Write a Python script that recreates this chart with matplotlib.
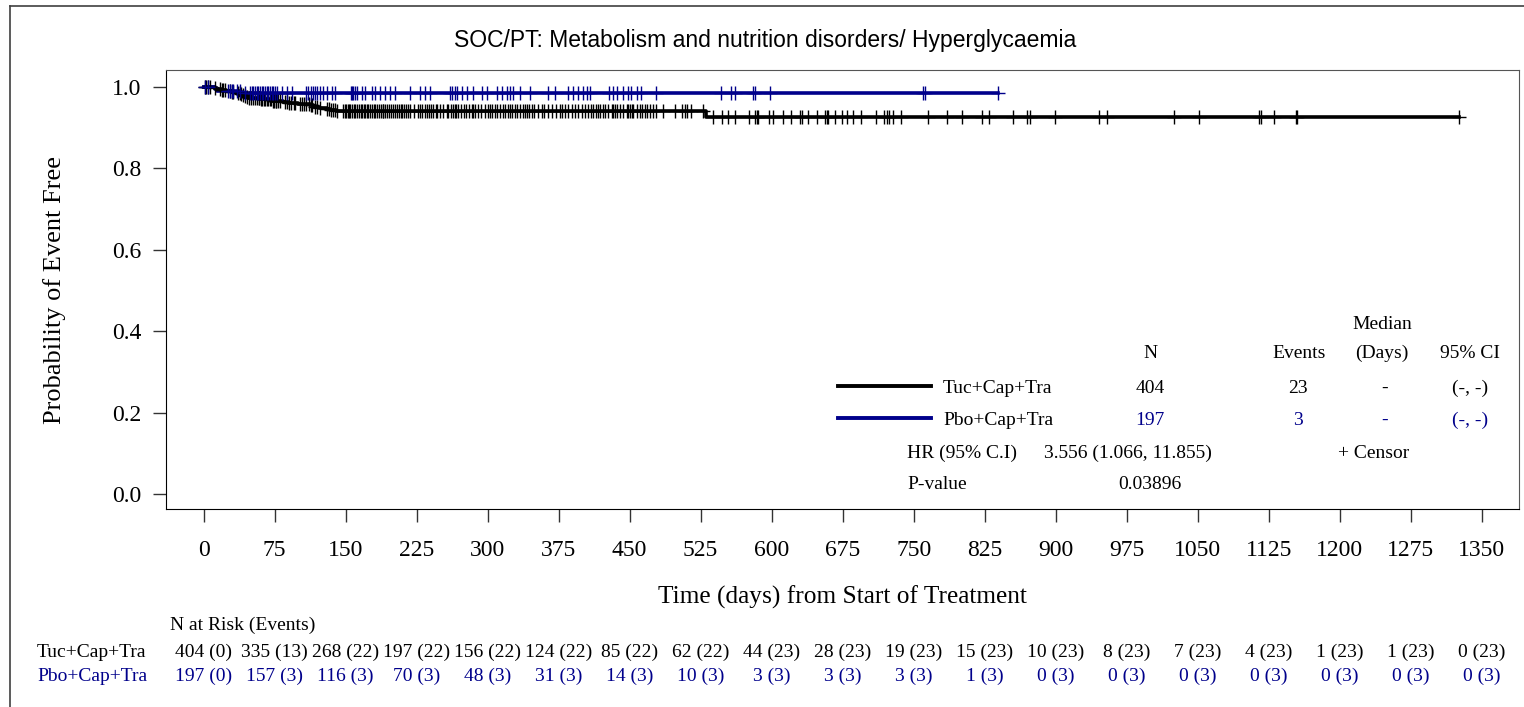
import numpy as np
import matplotlib.pyplot as plt
import matplotlib.transforms as mtransforms
from matplotlib.lines import Line2D

plt.rcParams['font.family'] = ['Liberation Serif', 'DejaVu Serif']

# KM step points (time in days, probability event free)
tuc_times = [0, 12, 14, 18, 24, 30, 36, 40, 42, 44, 46, 47, 60, 72, 84, 90, 100, 112, 116, 122, 130, 134, 140, 531]
tuc_surv = [1.0, .9975, .9950, .9926, .9901, .9876, .9851, .9825, .9800, .9775, .9749, .9724, .9697, .9670,
            .9641, .9612, .9582, .9551, .9522, .9493, .9465, .9437, .9410, .9258]
pbo_times = [0, 12, 14, 40]
pbo_surv = [1.0, .9949, .9898, .9846]

# censor marks (days)
tuc_censor = [1, 3, 5, 7, 12, 17, 19, 21, 23, 28, 30, 31, 36, 38, 40, 42, 44, 46, 48, 50, 52, 54, 56, 58, 59,
              61, 62, 64, 65, 67, 68, 70, 71, 73, 74, 76, 77, 79, 81, 86, 88, 90, 92, 95, 97, 102, 104, 106, 108,
              111, 113, 115, 118, 120, 123, 130, 132, 135, 137, 139, 141, 147, 149, 150, 152, 154, 155, 157, 159,
              160, 162, 164, 166, 167, 169, 171, 173, 174, 176, 178, 180, 181, 183, 185, 187, 189, 190, 192, 194,
              196, 198, 200, 202, 204, 206, 208, 210, 212, 214, 216, 218, 222, 226, 228.6, 231, 233.9, 236,
              238.5, 240, 242.7, 245, 247, 250, 253.3, 256.8, 258, 261, 263, 265.6, 267, 269.1, 272, 275, 277.2,
              280.7, 283, 284.9, 287, 290.2, 293, 297, 300, 302, 304.3, 307.8, 310, 313.1, 316, 318.4, 321,
              323.7, 326, 329, 331, 334.2, 337.7, 339, 341.3, 344, 346.6, 349, 353.6, 357, 360, 364.1, 368, 372,
              376, 379, 381.8, 385.2, 388.7, 392.3, 395.8, 399.3, 402.8, 406.3, 409, 411.6, 414, 416.9, 419,
              422.2, 424, 427, 431.1, 432.8, 434.6, 437, 440, 443, 446.9, 448.6, 450.4, 452.2, 453.9, 457.5, 461,
              462.8, 466.3, 468.1, 471.6, 475, 477.9, 485.6, 498, 505, 508.5, 510.9, 514.5, 527.2, 538.4, 547.3,
              554.2, 561.3, 576.4, 582.4, 584.2, 585.9, 597.6, 601.1, 611.7, 620.2, 630.0, 631.8, 638.7, 648.2,
              656.4, 658.1, 659.8, 666.9, 674.0, 679.9, 686.3, 694.1, 710.3, 718.7, 721.6, 724.3, 728.5, 736.4,
              765.5, 785.6, 800.8, 821.9, 829.9, 855.3, 869.4, 873, 899.4, 945.2, 954, 1025, 1050.8, 1115.2,
              1116.7, 1130.7, 1154, 1155.3, 1326.4]
pbo_censor = [1.5, 5, 26, 27.9, 29.6, 31.4, 34.9, 38.4, 43.7, 49, 50.8, 52.5, 54.3, 56.1, 57.8, 59.6, 61.4, 63.1,
              64.9, 66.6, 68.4, 70.1, 71.9, 73.7, 75.4, 77.2, 82.5, 87.8, 93, 108.2, 110.6, 113.1, 115.2, 117.7,
              120.1, 123, 126.5, 130, 135.3, 138.8, 155.4, 156.8, 158.2, 159.9, 161.7, 167, 170.5, 177.5, 181.1,
              186.3, 191.6, 196.9, 202.2, 218, 228.6, 233.9, 239.2, 260.3, 262.1, 265.6, 267.4, 272.6, 277.9,
              284.9, 293.8, 299, 309.6, 314.9, 320.2, 323.7, 327.2, 334.2, 344.8, 364.1, 371.2, 385.2, 390.5,
              395.8, 401.1, 404.7, 408.1, 428.6, 432.8, 437, 443.3, 448.6, 451.1, 457.5, 461.7, 477.9, 546.2,
              557.1, 561.3, 580, 582.4, 598.3, 760.2, 762, 839.4]

# number at risk table
risk_times = [0, 75, 150, 225, 300, 375, 450, 525, 600, 675, 750, 825, 900, 975, 1050, 1125, 1200, 1275, 1350]
tuc_risk = [404, 335, 268, 197, 156, 124, 85, 62, 44, 28, 19, 15, 10, 8, 7, 4, 1, 1, 0]
tuc_events = [0, 13, 22, 22, 22, 22, 22, 22, 23, 23, 23, 23, 23, 23, 23, 23, 23, 23, 23]
pbo_risk = [197, 157, 116, 70, 48, 31, 14, 10, 3, 3, 3, 1, 0, 0, 0, 0, 0, 0, 0]
pbo_events = [0, 3, 3, 3, 3, 3, 3, 3, 3, 3, 3, 3, 3, 3, 3, 3, 3, 3, 3]

groups = ['Tuc+Cap+Tra', 'Pbo+Cap+Tra']
n_tot = ['404', '197']
n_events = ['23', '3']
medians = ['-', '-']
ci = ['(-, -)', '(-, -)']
hr_text = '3.556 (1.066, 11.855)'
p_text = '0.03896'

BLACK = '#000000'
BLUE = '#00008B'

W, H = 1524, 707
fig = plt.figure(figsize=(W / 100, H / 100), dpi=100)


def fx(x):
    return x / W


def fy(y):
    return 1 - y / H


ax = fig.add_axes([fx(166), fy(509), fx(1519) - fx(166), fy(70) - fy(509)])


def draw_km(times, surv, censor, color):
    t = np.array(times, dtype=float)
    s = np.array(surv, dtype=float)
    c = np.array(censor, dtype=float)
    t_end = max(t[-1], c.max())
    ax.step(np.append(t, t_end), np.append(s, s[-1]), where='post', color=color, lw=2.6, zorder=3)
    cy = s[np.searchsorted(t, c, side='right') - 1]
    ax.plot(c, cy, linestyle='none', marker='+', markersize=9.5, markeredgewidth=1.0,
            color=color, zorder=4)


draw_km(tuc_times, tuc_surv, tuc_censor, BLACK)
draw_km(pbo_times, pbo_surv, pbo_censor, BLUE)

ax.set_xlim(-39.7, 1389.3)
ax.set_ylim(-0.037, 1.042)
ax.set_xticks(risk_times)
ax.set_yticks([0, 0.2, 0.4, 0.6, 0.8, 1.0])
ax.set_yticklabels(['0.0', '0.2', '0.4', '0.6', '0.8', '1.0'])
ax.tick_params(axis='x', length=9, width=1, color='#333333', pad=13, labelsize=17)
ax.tick_params(axis='y', length=9.5, width=1, color='#333333', pad=8, labelsize=17)
for side in ['left', 'bottom']:
    ax.spines[side].set_color('black')
for side in ['top', 'right']:
    ax.spines[side].set_color('#555555')

fig.text(fx(55), fy(290), 'Probability of Event Free', fontsize=19, rotation=90, ha='center', va='center')
fig.text(fx(842), fy(604), 'Time (days) from Start of Treatment', fontsize=18.3, ha='center', va='baseline')

fig.text(fx(765), fy(40), 'SOC/PT: Metabolism and nutrition disorders/ Hyperglycaemia',
         family='Liberation Sans', fontsize=16.5, ha='center', va='center')

# legend / summary block
fs = 14
fig.text(fx(1382), fy(329), 'Median', fontsize=fs, ha='center', va='baseline')
for label, xc in [('N', 1150), ('Events', 1299), ('(Days)', 1382), ('95% CI', 1470)]:
    fig.text(fx(xc), fy(358), label, fontsize=fs, ha='center', va='baseline')
for i, (grp, col) in enumerate(zip(groups, [BLACK, BLUE])):
    yb = 393 + 32 * i
    fig.add_artist(Line2D([fx(838), fx(931)], [fy(yb - 7), fy(yb - 7)], transform=fig.transFigure,
                          color=col, lw=2.8))
    fig.text(fx(943), fy(yb), grp, fontsize=fs, ha='left', va='baseline', color='black')
    fig.text(fx(1150), fy(yb), n_tot[i], fontsize=fs, ha='center', va='baseline', color=col)
    fig.text(fx(1298), fy(yb), n_events[i], fontsize=fs, ha='center', va='baseline', color=col)
    fig.text(fx(1385), fy(yb), medians[i], fontsize=fs, ha='center', va='baseline', color=col)
    fig.text(fx(1470), fy(yb), ci[i], fontsize=fs, ha='center', va='baseline', color=col)
fig.text(fx(907), fy(458), 'HR (95% C.I)', fontsize=fs, ha='left', va='baseline')
fig.text(fx(1044), fy(458), hr_text, fontsize=fs, ha='left', va='baseline')
fig.text(fx(1374), fy(458), '+ Censor', fontsize=fs, ha='center', va='baseline')
fig.text(fx(907), fy(489), 'P-value', fontsize=fs, ha='left', va='baseline')
fig.text(fx(1150), fy(489), p_text, fontsize=fs, ha='center', va='baseline')

# N at risk table
trans = mtransforms.blended_transform_factory(ax.transData, fig.transFigure)
fig.text(fx(170), fy(630), 'N at Risk (Events)', fontsize=fs, ha='left', va='baseline')
fig.text(fx(37), fy(657), groups[0], fontsize=fs, ha='left', va='baseline', color=BLACK)
fig.text(fx(37), fy(681), groups[1], fontsize=fs, ha='left', va='baseline', color=BLUE)
for t, n, e in zip(risk_times, tuc_risk, tuc_events):
    ax.text(t, fy(657), f'{n} ({e})', transform=trans, fontsize=fs, ha='center', va='baseline',
            color=BLACK, clip_on=False)
for t, n, e in zip(risk_times, pbo_risk, pbo_events):
    ax.text(t, fy(681), f'{n} ({e})', transform=trans, fontsize=fs, ha='center', va='baseline',
            color=BLUE, clip_on=False)

# outer frame
fig.add_artist(Line2D([fx(10), fx(10)], [fy(6), 0], transform=fig.transFigure, color='#404040', lw=1.2))
fig.add_artist(Line2D([fx(10), 1], [fy(6), fy(6)], transform=fig.transFigure, color='#404040', lw=1.2))

fig.savefig('out.png', dpi=100)
